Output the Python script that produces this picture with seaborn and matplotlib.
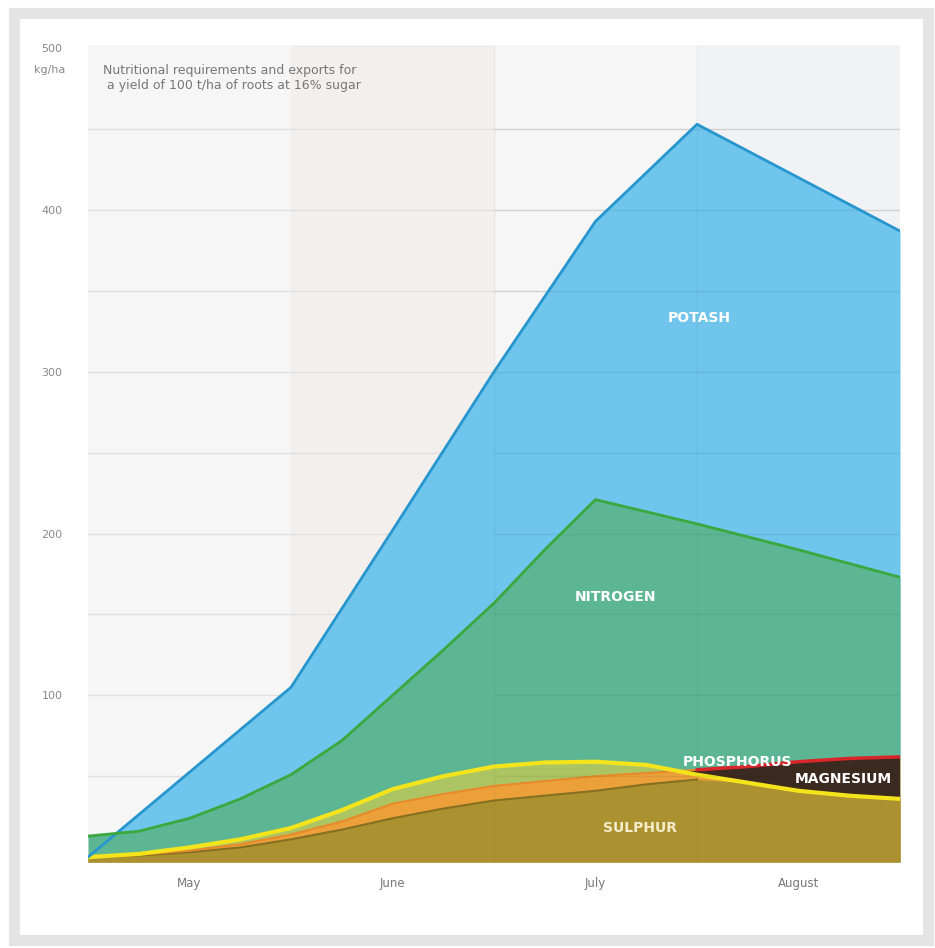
import numpy as np
import matplotlib.pyplot as plt
import seaborn as sns
from matplotlib.patches import Rectangle

# month axis: 0 = start of May, 4 = end of August
months = ['May', 'June', 'July', 'August']
month_centres = [0.5, 1.5, 2.5, 3.5]

# kg/ha
potash_x = [0, 1, 1.5, 2, 2.5, 3, 3.5, 4]
potash = [0, 105, 202, 300, 393, 453, 420, 387]

nitrogen_x = [0, 0.25, 0.5, 0.75, 1, 1.25, 1.5, 1.75, 2, 2.25, 2.5, 3, 3.5, 4]
nitrogen = [13, 16, 24, 36, 51, 72, 100, 128, 157, 190, 221, 206, 190, 173]

low_x = [0, 0.25, 0.5, 0.75, 1, 1.25, 1.5, 1.75, 2, 2.25, 2.5, 2.75, 3, 3.25, 3.5, 3.75, 4]
yellow_line = [0, 2, 6, 11, 18, 29, 42, 50, 56, 58.5, 59, 57, 51, 46, 41, 38, 36]
phosphorus = [0, 1.5, 4, 8, 14, 22, 33, 39, 44, 47, 50, 52, 54, 56, 59, 61, 62]
magnesium = [0, 1, 3, 6, 11, 17, 24, 30, 35, 38, 41, 45, 48, 52, 56, 58, 60]

yticks = [100, 200, 300, 400, 500]

sns.set_theme(style='white')
plt.rcParams['font.family'] = ['DejaVu Sans']

fig = plt.figure(figsize=(9.35, 9.48), dpi=100)
ax = fig.add_axes([88 / 935, 86 / 948, 812 / 935, 817 / 948])

# outer grey frame of the card
fig.patches.append(Rectangle((14 / 935, 8 / 948), 914 / 935, 927 / 948,
                             transform=fig.transFigure, fill=False,
                             edgecolor='#e4e4e4', lw=8, zorder=0))

ax.set_facecolor('#f6f6f6')
ax.axvspan(1, 2, color='#f3efec', zorder=0)
ax.axvspan(3, 4, color='#f0f2f5', zorder=0)
for v in range(50, 500, 50):
    ax.axhline(v, color='#e0e0e0', lw=1, zorder=0.5)

x_low = np.array(low_x)
yl = np.array(yellow_line)
ph = np.array(phosphorus)
mg = np.array(magnesium)

# potash
ax.fill_between(potash_x, -3, potash, color='#6fc5eb', lw=0, zorder=1)
sns.lineplot(x=potash_x, y=potash, ax=ax, color='#2796cf', lw=2, zorder=6)

# nitrogen
ax.fill_between(nitrogen_x, -3, nitrogen, color='#5db693', lw=0, zorder=2)
sns.lineplot(x=nitrogen_x, y=nitrogen, ax=ax, color='#3aa83e', lw=2, zorder=6)

# small nutrients
ax.fill_between(x_low, -3, yl, color='#acc562', lw=0, zorder=3)
ax.fill_between(x_low, -3, ph, color='#eba03a', lw=0, zorder=3.1)
ax.fill_between(x_low, yl, ph, where=ph >= yl, interpolate=True,
                color='#3b2a20', lw=0, zorder=3.2)
olive_top = np.minimum(mg, yl)
ax.fill_between(x_low, -3, olive_top, color='#ab9130', lw=0, zorder=3.3)
left = x_low <= 3
sns.lineplot(x=x_low[left], y=olive_top[left], ax=ax, color='#857020', lw=1.5, zorder=3.4)
sns.lineplot(x=x_low[left], y=ph[left], ax=ax, color='#e8892a', lw=1.5, zorder=3.5)
right = x_low >= 3
sns.lineplot(x=x_low[right], y=ph[right], ax=ax, color='#d8262b', lw=2.5, zorder=3.5)
sns.lineplot(x=x_low, y=yl, ax=ax, color='#f4e41c', lw=3, zorder=4)

# faint grid showing through the later months
ax.hlines(range(50, 500, 50), 2, 4, color='black', alpha=0.06, lw=1, zorder=5)
ax.axvline(2, color='black', alpha=0.03, lw=1, zorder=5)
ax.axvline(3, color='black', alpha=0.03, lw=1, zorder=5)

lab = dict(color='white', fontsize=10, fontweight='bold', ha='center', va='center', zorder=8)
ax.text(3.01, 333, 'POTASH', **lab)
ax.text(2.6, 161, 'NITROGEN', **lab)
ax.text(3.2, 59, 'PHOSPHORUS', **lab)
ax.text(3.72, 48, 'MAGNESIUM', **lab)
ax.text(2.72, 18, 'SULPHUR', color='#f3ecc8', fontsize=10, fontweight='bold',
        ha='center', va='center', zorder=8)

ax.text(0.075, 490, 'Nutritional requirements and exports for\n a yield of 100 t/ha of roots at 16% sugar',
        fontsize=9, color='#777777', ha='left', va='top', linespacing=1.15, zorder=8)

ax.set_xlim(0, 4)
ax.set_ylim(-3, 502)
ax.set_xticks(month_centres)
ax.set_xticklabels(months)
ax.set_yticks(yticks)
ax.set_yticklabels([str(t) for t in yticks])
ax.tick_params(axis='x', length=0, pad=11, labelsize=8.5, labelcolor='#777777')
ax.tick_params(axis='y', length=0, pad=26, labelsize=8, labelcolor='#888888')
for lbl in ax.get_yticklabels():
    lbl.set_horizontalalignment('center')
ax.text(-0.19, 486.5, 'kg/ha', fontsize=8, color='#888888', ha='center', va='center',
        transform=ax.transData, clip_on=False)
ax.set_xlabel('')
ax.set_ylabel('')
sns.despine(ax=ax, left=True, bottom=True)

fig.savefig('out.png', dpi=100, facecolor='white')
